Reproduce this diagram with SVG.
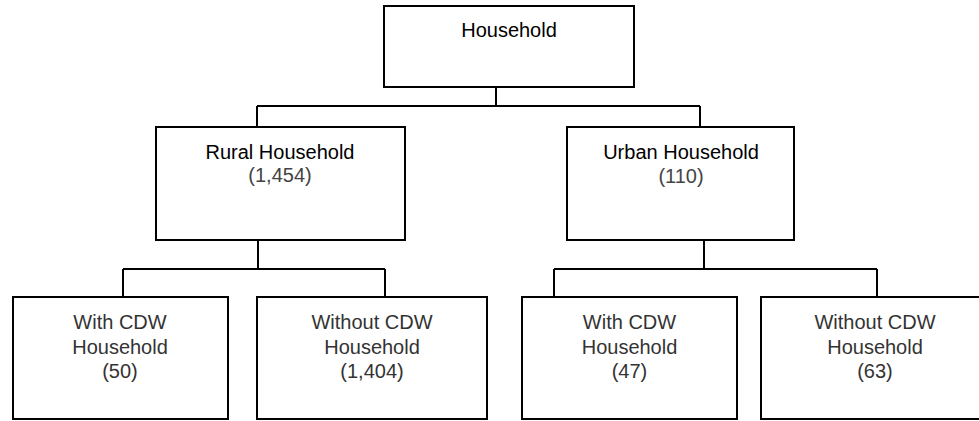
<svg xmlns="http://www.w3.org/2000/svg" width="979" height="421" viewBox="0 0 979 421">
<style>
.box{fill:#fff;stroke:#000;stroke-width:2}
.ln{fill:none;stroke:#000;stroke-width:2}
text{font-family:"Liberation Sans",Arial,sans-serif;font-size:20px;text-anchor:middle}
.t{fill:#000}
.n{fill:#444}
.b{fill:#333}
</style>
<rect width="979" height="421" fill="#fff"/>
<g id="connectors">
<path class="ln" d="M496,87 V106 M257,106 H700 M257,106 V127 M700,106 V127"/>
<path class="ln" d="M258,240 V269 M123,269 H385 M123,269 V297 M385,269 V297"/>
<path class="ln" d="M704,240 V269 M554,269 H877 M554,269 V297 M877,269 V297"/>
</g>
<g id="household">
<rect class="box" x="384" y="6" width="250" height="81"/>
<text class="t" x="509" y="37">Household</text>
</g>
<g id="rural">
<rect class="box" x="156" y="127" width="249" height="113"/>
<text class="t" x="280" y="159">Rural Household</text>
<text class="n" x="280" y="182">(1,454)</text>
</g>
<g id="urban">
<rect class="box" x="567" y="127" width="227" height="113"/>
<text class="t" x="681" y="159">Urban Household</text>
<text class="n" x="681" y="183">(110)</text>
</g>
<g id="rural-with">
<rect class="box" x="13" y="297" width="215" height="122"/>
<text class="b" x="120" y="329">With CDW</text>
<text class="b" x="120" y="354">Household</text>
<text class="b" x="120" y="378">(50)</text>
</g>
<g id="rural-without">
<rect class="box" x="257" y="297" width="230" height="122"/>
<text class="b" x="372" y="329">Without CDW</text>
<text class="b" x="372" y="354">Household</text>
<text class="b" x="372" y="378">(1,404)</text>
</g>
<g id="urban-with">
<rect class="box" x="522" y="297" width="215" height="122"/>
<text class="b" x="629.5" y="329">With CDW</text>
<text class="b" x="629.5" y="354">Household</text>
<text class="b" x="629.5" y="378">(47)</text>
</g>
<g id="urban-without">
<rect class="box" x="761" y="297" width="229" height="122"/>
<text class="b" x="875" y="329">Without CDW</text>
<text class="b" x="875" y="354">Household</text>
<text class="b" x="875" y="378">(63)</text>
</g>
</svg>
